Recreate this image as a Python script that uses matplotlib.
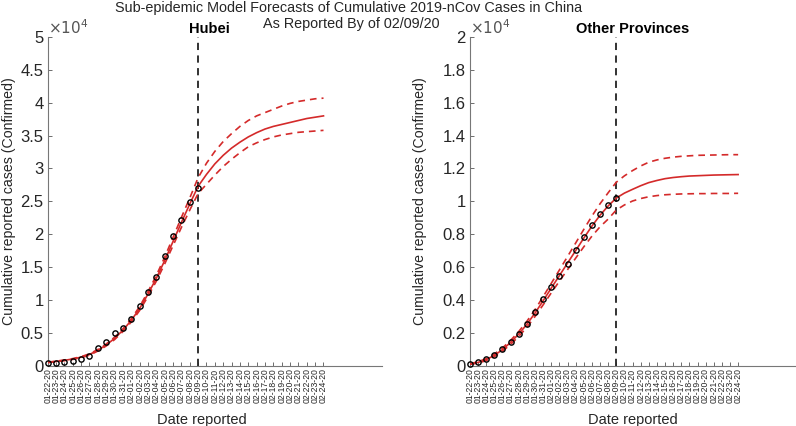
import matplotlib
matplotlib.use("Agg")
import matplotlib.pyplot as plt
from matplotlib.ticker import FixedLocator, FuncFormatter

plt.rcParams['font.family'] = ['Liberation Sans', 'DejaVu Sans']

# ---------------- data (values in units of 10^4 cases) ----------------
dates = ["01-22-20", "01-23-20", "01-24-20", "01-25-20", "01-26-20", "01-27-20",
         "01-28-20", "01-29-20", "01-30-20", "01-31-20", "02-01-20", "02-02-20",
         "02-03-20", "02-04-20", "02-05-20", "02-06-20", "02-07-20", "02-08-20",
         "02-09-20", "02-10-20", "02-11-20", "02-12-20", "02-13-20", "02-14-20",
         "02-15-20", "02-16-20", "02-17-20", "02-18-20", "02-19-20", "02-20-20",
         "02-21-20", "02-22-20", "02-23-20", "02-24-20"]
cutoff_index = 18  # 02-09-20

hubei_obs = [0.0444, 0.0444, 0.0549, 0.0761, 0.1058, 0.1423, 0.2714, 0.3554,
             0.4903, 0.5806, 0.7153, 0.9074, 1.1177, 1.3522, 1.6678, 1.9665,
             2.2112, 2.4953, 2.7100]
hubei_fit = [0.050, 0.065, 0.082, 0.102, 0.130, 0.170, 0.235, 0.315, 0.415,
             0.540, 0.690, 0.870, 1.090, 1.330, 1.600, 1.890, 2.180, 2.460,
             2.730, 2.910, 3.070, 3.200, 3.310, 3.400, 3.480, 3.545, 3.600,
             3.640, 3.670, 3.700, 3.730, 3.760, 3.780, 3.800]
hubei_upper = [0.053, 0.069, 0.087, 0.108, 0.138, 0.180, 0.247, 0.330, 0.433,
               0.561, 0.715, 0.900, 1.126, 1.373, 1.652, 1.953, 2.256, 2.552,
               2.860, 3.080, 3.260, 3.410, 3.530, 3.640, 3.730, 3.800, 3.850,
               3.900, 3.950, 3.990, 4.020, 4.040, 4.060, 4.070]
hubei_lower = [0.047, 0.061, 0.077, 0.096, 0.122, 0.160, 0.223, 0.300, 0.397,
               0.519, 0.665, 0.840, 1.054, 1.287, 1.548, 1.827, 2.104, 2.368,
               2.620, 2.760, 2.900, 3.030, 3.140, 3.240, 3.330, 3.390, 3.440,
               3.480, 3.510, 3.530, 3.550, 3.560, 3.570, 3.580]

other_obs = [0.012, 0.020, 0.039, 0.067, 0.100, 0.144, 0.195, 0.256, 0.327,
             0.404, 0.477, 0.545, 0.620, 0.705, 0.782, 0.854, 0.920, 0.977,
             1.020]
other_fit = [0.010, 0.020, 0.037, 0.063, 0.098, 0.142, 0.193, 0.252, 0.320,
             0.395, 0.472, 0.548, 0.624, 0.700, 0.776, 0.849, 0.915, 0.972,
             1.020, 1.050, 1.073, 1.095, 1.114, 1.127, 1.138, 1.145, 1.150,
             1.154, 1.156, 1.158, 1.160, 1.161, 1.162, 1.163]
other_upper = [0.012, 0.024, 0.043, 0.071, 0.108, 0.154, 0.208, 0.270, 0.341,
               0.420, 0.501, 0.582, 0.664, 0.746, 0.829, 0.910, 0.985, 1.052,
               1.116, 1.155, 1.187, 1.215, 1.238, 1.252, 1.262, 1.269, 1.274,
               1.277, 1.280, 1.281, 1.282, 1.283, 1.284, 1.284]
other_lower = [0.008, 0.016, 0.031, 0.055, 0.088, 0.130, 0.178, 0.234, 0.299,
               0.370, 0.443, 0.514, 0.584, 0.654, 0.723, 0.788, 0.845, 0.892,
               0.947, 0.978, 1.002, 1.017, 1.028, 1.035, 1.040, 1.043, 1.045,
               1.046, 1.047, 1.047, 1.048, 1.048, 1.048, 1.049]

panels = [
    dict(title="Hubei", obs=hubei_obs, fit=hubei_fit, up=hubei_upper, lo=hubei_lower,
         ylim=5, yticks=[0, 0.5, 1, 1.5, 2, 2.5, 3, 3.5, 4, 4.5, 5],
         rect=[47.7/796, 1-365.7/426, 334.3/796, 328.7/426],
         xlab_x=0.462, ylab_x=-0.096, title_x=0.485),
    dict(title="Other Provinces", obs=other_obs, fit=other_fit, up=other_upper, lo=other_lower,
         ylim=2, yticks=[0, 0.2, 0.4, 0.6, 0.8, 1, 1.2, 1.4, 1.6, 1.8, 2],
         rect=[470/796, 1-365.7/426, 325/796, 328.7/426],
         xlab_x=0.5, ylab_x=-0.132, title_x=0.5),
]

RED = '#d42a2a'
AXC = '#262626'

fig = plt.figure(figsize=(7.96, 4.26), dpi=100)

def fmt(v, pos):
    s = ('%.1f' % v).rstrip('0').rstrip('.')
    return s

for p in panels:
    ax = fig.add_axes(p['rect'])
    x_all = list(range(len(dates)))
    x_obs = list(range(len(p['obs'])))
    ax.plot(x_all, p['fit'], color=RED, lw=1.2, zorder=3)
    ax.plot(x_all, p['up'], color=RED, lw=1.2, ls=(0, (4, 3)), zorder=3)
    ax.plot(x_all, p['lo'], color=RED, lw=1.2, ls=(0, (4, 3)), zorder=3)
    ax.plot(x_obs, p['obs'], 'o', mfc='none', mec='black', ms=3.8, mew=1.0,
            zorder=4, clip_on=False)
    ax.axvline(cutoff_index, color='#222222', lw=1.3, ls=(0, (4, 3)), zorder=2)

    ax.set_xlim(0, 40)
    ax.set_ylim(0, p['ylim'])
    ax.xaxis.set_major_locator(FixedLocator(x_all))
    ax.set_xticklabels(dates, rotation=90, fontsize=6.2, color=AXC)
    ax.set_yticks(p['yticks'])
    ax.yaxis.set_major_formatter(FuncFormatter(fmt))
    for lab in ax.get_yticklabels():
        lab.set_fontsize(12)
        lab.set_color(AXC)
    ax.tick_params(direction='in', length=3, width=0.6, color='#555555', pad=2)
    ax.tick_params(axis='y', pad=3)
    for s in ['top', 'right']:
        ax.spines[s].set_visible(False)
    for s in ['left', 'bottom']:
        ax.spines[s].set_color('#777777')
        ax.spines[s].set_linewidth(0.8)
    ax.set_title(p['title'], fontsize=10.5, fontweight='bold', pad=3, color='black',
                 x=p['title_x'])
    ax.set_ylabel("Cumulative reported cases (Confirmed)", fontsize=10.2, color=AXC)
    ax.yaxis.set_label_coords(p['ylab_x'], 0.5)
    ax.set_xlabel("Date reported", fontsize=10.5, color=AXC)
    ax.xaxis.set_label_coords(p['xlab_x'], -0.145)
    ax.text(0.0, 1.0, r'$\times10^{4}$', transform=ax.transAxes, fontsize=11,
            color='#555555', ha='left', va='bottom')

fig.text(349/796, 1-8/426, "Sub-epidemic Model Forecasts of Cumulative 2019-nCov Cases in China",
         ha='center', va='center', fontsize=10.4, color=AXC)
fig.text(351/796, 1-24/426, "As Reported By of 02/09/20",
         ha='center', va='center', fontsize=10.4, color=AXC)

fig.savefig("out.png", dpi=100)
